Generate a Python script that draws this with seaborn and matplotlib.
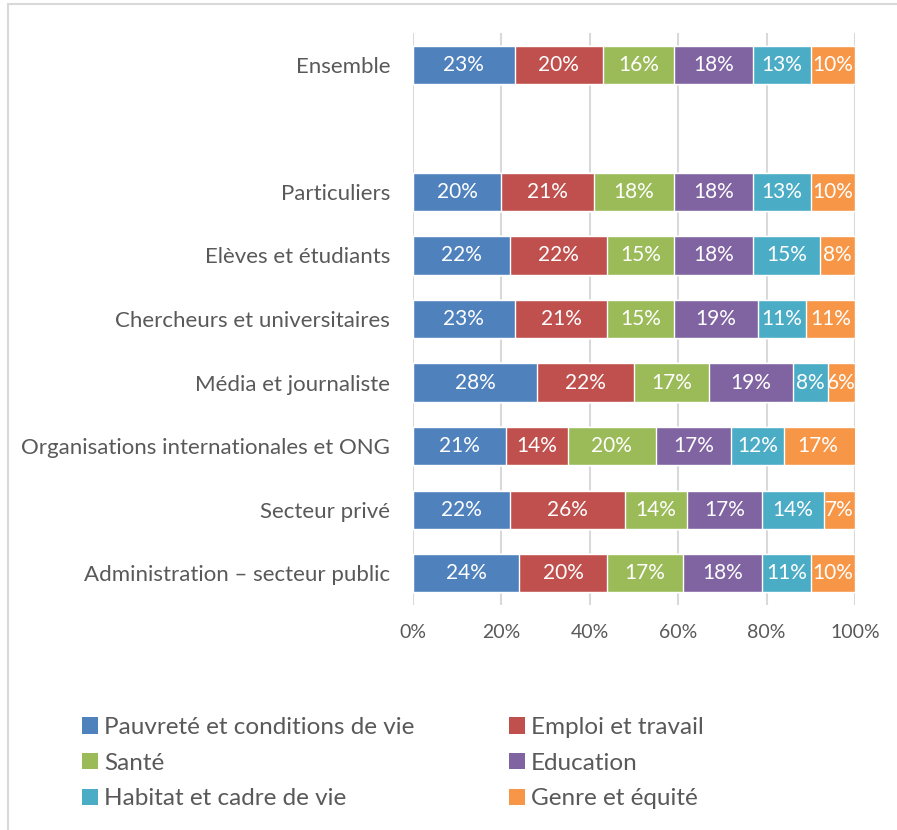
import matplotlib
matplotlib.use("Agg")
import matplotlib.pyplot as plt
from matplotlib.patches import Rectangle, Patch
import numpy as np
import pandas as pd
import seaborn as sns

# Respondent groups, top to bottom; "" leaves an empty row under "Ensemble"
groups = ["Ensemble", "", "Particuliers", "Elèves et étudiants",
          "Chercheurs et universitaires", "Média et journaliste",
          "Organisations internationales et ONG", "Secteur privé",
          "Administration – secteur public"]

themes = ["Pauvreté et conditions de vie", "Emploi et travail", "Santé",
          "Education", "Habitat et cadre de vie", "Genre et équité"]

# Share (%) of each theme per group (same order as groups, without the blank row)
pauvrete = [23, 20, 22, 23, 28, 21, 22, 24]
emploi = [20, 21, 22, 21, 22, 14, 26, 20]
sante = [16, 18, 15, 15, 17, 20, 14, 17]
education = [18, 18, 18, 19, 19, 17, 17, 18]
habitat = [13, 13, 15, 11, 8, 12, 14, 11]
genre = [10, 10, 8, 11, 6, 17, 7, 10]

colors = ["#4F81BD", "#C0504D", "#9BBB59", "#8064A2", "#4BACC6", "#F79646"]

series = [pauvrete, emploi, sante, education, habitat, genre]
rows = [g for g in groups if g]
df = pd.DataFrame({t: s for t, s in zip(themes, series)}, index=rows)
cum = df.cumsum(axis=1)

sns.set_theme(style="white")
plt.rcParams["font.family"] = ["Lato", "DejaVu Sans"]

fig = plt.figure(figsize=(8.97, 8.30), dpi=100)
ax = fig.add_axes([413 / 897, 1 - 605 / 830, (855 - 413) / 897, (605 - 33) / 830])

# Stacked bars: draw cumulative totals from the last theme back to the first
for theme, color in reversed(list(zip(themes, colors))):
    d = pd.DataFrame({"group": rows, "value": cum[theme].values})
    sns.barplot(data=d, x="value", y="group", order=groups, color=color,
                orient="h", width=0.6, saturation=1, ax=ax, zorder=3)

# Percentage labels centred in each segment
pos = {g: i for i, g in enumerate(groups)}
for theme in themes:
    for g in rows:
        v = df.loc[g, theme]
        x = cum.loc[g, theme] - v / 2
        ax.text(min(x, 100 - v / 2), pos[g], f"{v}%", ha="center", va="center",
                color="white", fontsize=15, zorder=5)

ax.set_xlim(0, 100)
ax.set_ylim(len(groups) - 0.5, -0.5)
ax.set_xticks(np.arange(0, 101, 20))
ax.set_xticklabels([f"{t}%" for t in range(0, 101, 20)])
ax.grid(axis="x", color="#D9D9D9", linewidth=1.5, zorder=0)
ax.grid(axis="y", visible=False)
for s in ax.spines.values():
    s.set_visible(False)
ax.set_xlabel("")
ax.set_ylabel("")
ax.tick_params(axis="x", colors="#595959", labelsize=14, length=0, pad=14)
ax.tick_params(axis="y", colors="#595959", labelsize=16, length=0, pad=16.5)

# Chart frame
fig.patches.append(Rectangle((8 / 897, -0.1), 1.2, 1.1 - 4.5 / 830,
                             transform=fig.transFigure, fill=False,
                             edgecolor="#D9D9D9", linewidth=1.5))

# Legend laid out row by row in two columns
order = [0, 2, 4, 1, 3, 5]
handles = [Patch(facecolor=colors[i], edgecolor="none") for i in order]
labels = [themes[i] for i in order]
fig.legend(handles, labels, ncol=2, loc="upper left",
           bbox_to_anchor=(82 / 897, 1 - 717 / 830), frameon=False,
           borderpad=0, borderaxespad=0,
           fontsize=17.5, labelcolor="#595959", handlelength=0.65,
           handleheight=0.65, handletextpad=0.25, columnspacing=3.9,
           labelspacing=0.6)

fig.savefig("out.png", dpi=100, facecolor="white")
